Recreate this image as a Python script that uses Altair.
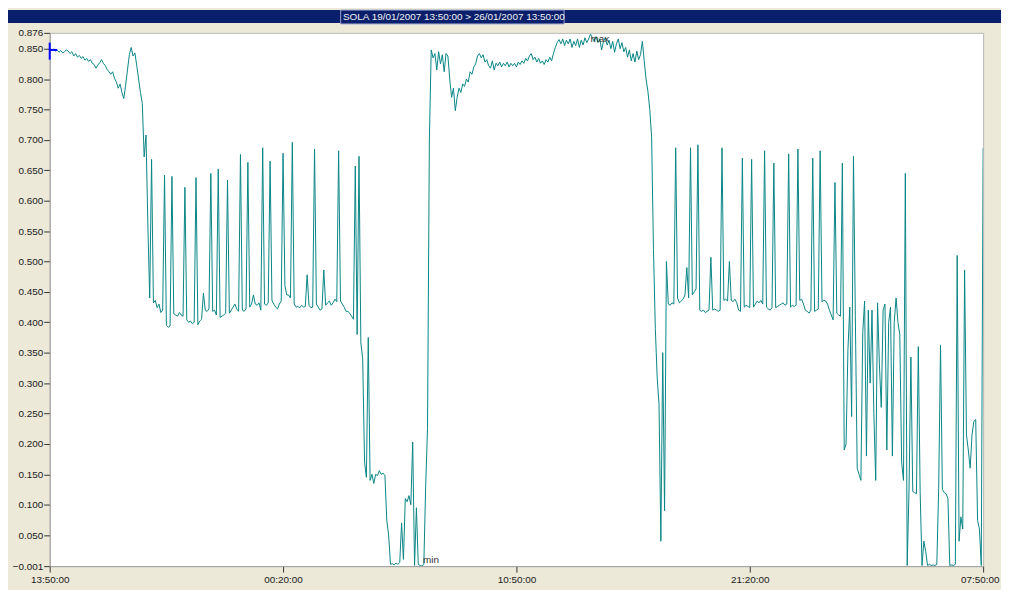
import altair as alt
import pandas as pd

TITLE = "SOLA  19/01/2007 13:50:00 > 26/01/2007 13:50:00"
T_START = "2007-01-19T13:50:00"
T_END = "2007-01-21T07:50:00"
X_TICKS = [(2007, 1, 19, 13, 50), (2007, 1, 20, 0, 20), (2007, 1, 20, 10, 50),
           (2007, 1, 20, 21, 20), (2007, 1, 21, 7, 50)]
Y_TICKS = [-0.001, 0.05, 0.1, 0.15, 0.2, 0.25, 0.3, 0.35, 0.4, 0.45, 0.5,
           0.55, 0.6, 0.65, 0.7, 0.75, 0.8, 0.85, 0.876]

# readings (5-minute samples)
seg_a = [0.848, 0.847, 0.849, 0.846, 0.848, 0.844, 0.847, 0.843, 0.845, 0.848,
         0.846, 0.842, 0.845, 0.838, 0.842, 0.836, 0.839, 0.834, 0.837, 0.831,
         0.834, 0.829, 0.832, 0.826, 0.824, 0.818, 0.823, 0.827, 0.832, 0.826,
         0.822, 0.816, 0.812, 0.808, 0.812, 0.801, 0.795, 0.785, 0.792, 0.778,
         0.768, 0.790, 0.815, 0.840, 0.852, 0.838, 0.843, 0.822, 0.800, 0.778]
seg_b = [0.760, 0.672, 0.708, 0.560, 0.440, 0.668, 0.432, 0.436, 0.424, 0.430,
         0.416, 0.420, 0.642, 0.395, 0.392, 0.394, 0.640, 0.414, 0.412, 0.410,
         0.416, 0.412, 0.410, 0.622, 0.404, 0.400, 0.402, 0.398, 0.400, 0.638,
         0.396, 0.402, 0.405, 0.448, 0.420, 0.418, 0.422, 0.645, 0.418, 0.420,
         0.412, 0.652, 0.408, 0.410, 0.412, 0.415, 0.634, 0.415, 0.420, 0.425]
seg_c = [0.430, 0.422, 0.418, 0.676, 0.420, 0.418, 0.422, 0.663, 0.425, 0.430,
         0.445, 0.430, 0.428, 0.432, 0.420, 0.687, 0.430, 0.428, 0.432, 0.665,
         0.436, 0.430, 0.425, 0.422, 0.430, 0.435, 0.678, 0.460, 0.445, 0.445,
         0.440, 0.696, 0.430, 0.425, 0.426, 0.424, 0.428, 0.425, 0.426, 0.478,
         0.428, 0.424, 0.425, 0.685, 0.430, 0.425, 0.420, 0.422, 0.486, 0.428]
seg_d = [0.432, 0.435, 0.428, 0.432, 0.438, 0.434, 0.682, 0.435, 0.430, 0.425,
         0.418, 0.418, 0.415, 0.410, 0.405, 0.657, 0.380, 0.673, 0.366, 0.340,
         0.170, 0.145, 0.375, 0.140, 0.150, 0.135, 0.150, 0.148, 0.156, 0.150,
         0.152, 0.148, 0.075, 0.050, 0.002, 0.003, 0.001, 0.004, 0.002, 0.005,
         0.070, 0.010, 0.110, 0.105, 0.115, 0.100, 0.203, 0.000, 0.095, 0.002]
seg_e = [0.000, -0.001, 0.002, 0.130, 0.225, 0.700, 0.848, 0.835, 0.842, 0.815,
         0.845, 0.825, 0.840, 0.812, 0.842, 0.838, 0.800, 0.770, 0.785, 0.748,
         0.770, 0.785, 0.778, 0.792, 0.788, 0.800, 0.795, 0.812, 0.808, 0.820,
         0.825, 0.838, 0.842, 0.835, 0.840, 0.828, 0.832, 0.822, 0.818, 0.830,
         0.815, 0.826, 0.822, 0.828, 0.820, 0.826, 0.822, 0.828, 0.820, 0.826]
seg_f = [0.822, 0.826, 0.820, 0.828, 0.824, 0.830, 0.826, 0.834, 0.830, 0.838,
         0.842, 0.832, 0.836, 0.828, 0.834, 0.826, 0.830, 0.824, 0.832, 0.828,
         0.836, 0.830, 0.842, 0.852, 0.860, 0.865, 0.858, 0.866, 0.855, 0.864,
         0.858, 0.866, 0.852, 0.862, 0.855, 0.866, 0.852, 0.864, 0.856, 0.868,
         0.860, 0.866, 0.874, 0.868, 0.862, 0.870, 0.860, 0.866, 0.848, 0.862]
seg_g = [0.868, 0.856, 0.864, 0.850, 0.862, 0.844, 0.858, 0.866, 0.850, 0.860,
         0.845, 0.852, 0.836, 0.848, 0.830, 0.842, 0.828, 0.846, 0.832, 0.840,
         0.862, 0.830, 0.800, 0.780, 0.750, 0.705, 0.520, 0.390, 0.310, 0.265,
         0.040, 0.350, 0.090, 0.500, 0.430, 0.428, 0.432, 0.430, 0.687, 0.440,
         0.432, 0.435, 0.438, 0.445, 0.490, 0.440, 0.687, 0.445, 0.450, 0.455]
seg_h = [0.692, 0.420, 0.418, 0.420, 0.416, 0.418, 0.420, 0.507, 0.420, 0.422,
         0.420, 0.418, 0.420, 0.687, 0.436, 0.438, 0.435, 0.500, 0.436, 0.434,
         0.438, 0.432, 0.420, 0.418, 0.670, 0.425, 0.428, 0.426, 0.424, 0.668,
         0.425, 0.430, 0.435, 0.432, 0.436, 0.430, 0.682, 0.425, 0.422, 0.420,
         0.424, 0.662, 0.424, 0.426, 0.428, 0.430, 0.432, 0.428, 0.430, 0.677]
seg_i = [0.425, 0.428, 0.426, 0.428, 0.685, 0.436, 0.438, 0.430, 0.420, 0.418,
         0.415, 0.420, 0.670, 0.418, 0.420, 0.422, 0.682, 0.434, 0.436, 0.435,
         0.430, 0.420, 0.412, 0.404, 0.630, 0.415, 0.412, 0.410, 0.662, 0.190,
         0.200, 0.355, 0.425, 0.245, 0.673, 0.410, 0.160, 0.150, 0.140, 0.383,
         0.435, 0.180, 0.420, 0.300, 0.420, 0.250, 0.140, 0.432, 0.330, 0.260]
seg_j = [0.420, 0.430, 0.190, 0.400, 0.425, 0.180, 0.400, 0.440, 0.400, 0.380,
         0.170, 0.140, 0.645, 0.000, 0.125, 0.343, 0.122, 0.120, 0.118, 0.360,
         0.120, 0.000, 0.040, 0.023, 0.000, 0.002, 0.000, 0.001, 0.000, 0.002,
         0.127, 0.362, 0.125, 0.120, 0.118, 0.110, 0.000, 0.001, 0.000, 0.002,
         0.510, 0.040, 0.080, 0.060, 0.486, 0.215, 0.190, 0.160, 0.215, 0.237,
         0.240, 0.074, 0.060, 0.000, 0.687]

values = seg_a + seg_b + seg_c + seg_d + seg_e + seg_f + seg_g + seg_h + seg_i + seg_j
times = pd.date_range(T_START, T_END, periods=len(values)).strftime("%Y-%m-%dT%H:%M:%S")
df = pd.DataFrame({"t": list(times), "v": values})

imax = values.index(max(values))
imin = values.index(min(values))
df_max = pd.DataFrame({"t": [times[imax]], "v": [values[imax]], "label": ["max"]})
df_min = pd.DataFrame({"t": [times[imin]], "v": [values[imin]], "label": ["min"]})
df_cursor = pd.DataFrame({"t": [times[0]], "t2": [times[4]], "v": [values[0]],
                          "vhi": [values[0] + 0.012], "vlo": [values[0] - 0.016]})


def dt(y, mo, d, h, mi):
    return alt.DateTime(year=y, month=mo, date=d, hours=h, minutes=mi)


FONT = "Liberation Sans"
LAST = "07:50:00"
X_SCALE = alt.Scale(domain=[dt(*X_TICKS[0]), dt(*X_TICKS[-1])])
X_AXIS = alt.Axis(values=[dt(*v) for v in X_TICKS], format="%H:%M:%S",
                  grid=False, tickSize=6, tickColor="#333333",
                  domainColor="#a0a0a0", labelFont=FONT, labelFontSize=10,
                  labelColor="#1a1a1a", labelPadding=2, labelFlush=False,
                  labelOverlap=False,
                  labelAlign={"expr": f"datum.label == '{LAST}' ? 'right' : 'center'"},
                  labelOffset={"expr": f"datum.label == '{LAST}' ? 16 : 0"})
Y_SCALE = alt.Scale(domain=[-0.001, 0.876], nice=False, zero=False)
Y_AXIS = alt.Axis(values=Y_TICKS, format=".3f", grid=False, tickSize=6,
                  tickColor="#333333", domainColor="#a0a0a0",
                  labelFont=FONT, labelFontSize=10, labelColor="#1a1a1a",
                  labelPadding=1, labelOverlap=False)

x_enc = alt.X("t:T", title=None, scale=X_SCALE, axis=X_AXIS)
y_enc = alt.Y("v:Q", title=None, scale=Y_SCALE, axis=Y_AXIS)

line = alt.Chart(df).mark_line(color="#0a8585", strokeWidth=1, clip=True).encode(
    x=x_enc, y=y_enc)

cur_v = alt.Chart(df_cursor).mark_rule(color="#0000ff", strokeWidth=2).encode(
    x=x_enc, y=alt.Y("vhi:Q", title=None, scale=Y_SCALE, axis=Y_AXIS), y2="vlo:Q")
cur_h = alt.Chart(df_cursor).mark_rule(color="#0000ff", strokeWidth=2).encode(
    x=x_enc, x2="t2:T", y=y_enc)

lab_max = alt.Chart(df_max).mark_text(align="left", baseline="middle", dx=0, dy=5,
                                      font=FONT, fontSize=10, color="#333333").encode(
    x=x_enc, y=y_enc, text="label:N")
lab_min = alt.Chart(df_min).mark_text(align="left", baseline="middle", dx=1, dy=-6,
                                      font=FONT, fontSize=10, color="#333333").encode(
    x=x_enc, y=y_enc, text="label:N")

one = alt.Data(values=[{"a": 1}])
bar = alt.Chart(one).mark_rect(color="#0a1f6b").encode(
    x=alt.value(-42), x2=alt.value(958), y=alt.value(-23), y2=alt.value(-10))
box = alt.Chart(one).mark_rect(fill="#0a1f6b", stroke="#9aa6d0", strokeWidth=1).encode(
    x=alt.value(293), x2=alt.value(518), y=alt.value(-23), y2=alt.value(-9))
title_txt = alt.Chart(one).mark_text(font=FONT, fontSize=10, color="#f2f2f2",
                                     align="center", baseline="middle").encode(
    x=alt.value(407), y=alt.value(-16), text=alt.value(TITLE))

chart = alt.layer(line, cur_v, cur_h, lab_max, lab_min, bar, box, title_txt).properties(
    width=940, height=537,
    padding={"left": 42, "top": 23, "right": 18, "bottom": 22},
    autosize=alt.AutoSizeParams(type="none"),
    background="#ECE9D8",
).configure_view(fill="white", stroke="#b8b8b8", strokeWidth=1)

chart.save("out.html", embed_options={"renderer": "svg", "actions": False})
